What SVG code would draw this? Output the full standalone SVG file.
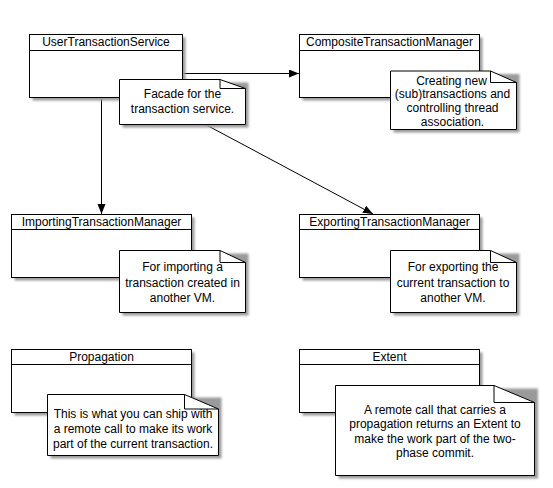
<svg xmlns="http://www.w3.org/2000/svg" width="553" height="488" viewBox="0 0 553 488">
<style>
text{font-family:"Liberation Sans",Arial,sans-serif;font-size:12px;fill:#000;text-anchor:middle}
.box{fill:#fff;stroke:#000;stroke-width:1}
.sh{fill:#9a9a9a;filter:url(#blur)}
.ln{stroke:#000;stroke-width:1;fill:none}
.note{fill:#fff;stroke:#000;stroke-width:1}
</style>
<defs>
<filter id="blur" x="-10%" y="-10%" width="120%" height="120%"><feGaussianBlur stdDeviation="0.9"/></filter>
<marker id="arr" markerUnits="userSpaceOnUse" markerWidth="11" markerHeight="9" refX="10" refY="4" orient="auto"><path d="M0,0 L10,4 L0,8 Z" fill="#000"/></marker>
</defs>
<rect width="553" height="488" fill="#fff"/>
<g id="connectors">
<line class="ln" x1="183" y1="73.5" x2="299" y2="73.5" marker-end="url(#arr)"/>
<line class="ln" x1="101.5" y1="98" x2="101.5" y2="214" marker-end="url(#arr)"/>
<line class="ln" x1="154" y1="97" x2="373" y2="214" marker-end="url(#arr)"/>
</g>
<g id="UserTransactionService">
<rect class="sh" x="32.5" y="37.5" width="153" height="63"/>
<rect class="box" x="29.5" y="34.5" width="153" height="63"/>
<line class="ln" x1="29.5" y1="50.5" x2="182.5" y2="50.5"/>
<text x="106" y="45.5">UserTransactionService</text>
</g>
<g id="CompositeTransactionManager">
<rect class="sh" x="302.5" y="37.5" width="180" height="63"/>
<rect class="box" x="299.5" y="34.5" width="180" height="63"/>
<line class="ln" x1="299.5" y1="50.5" x2="479.5" y2="50.5"/>
<text x="389.5" y="45.5">CompositeTransactionManager</text>
</g>
<g id="ImportingTransactionManager">
<rect class="sh" x="14.5" y="217.5" width="180" height="63"/>
<rect class="box" x="11.5" y="214.5" width="180" height="63"/>
<line class="ln" x1="11.5" y1="229.5" x2="191.5" y2="229.5"/>
<text x="101.5" y="225.5">ImportingTransactionManager</text>
</g>
<g id="ExportingTransactionManager">
<rect class="sh" x="302.5" y="217.5" width="180" height="63"/>
<rect class="box" x="299.5" y="214.5" width="180" height="63"/>
<line class="ln" x1="299.5" y1="229.5" x2="479.5" y2="229.5"/>
<text x="389.5" y="225.5">ExportingTransactionManager</text>
</g>
<g id="Propagation">
<rect class="sh" x="14.5" y="352.5" width="180" height="63"/>
<rect class="box" x="11.5" y="349.5" width="180" height="63"/>
<line class="ln" x1="11.5" y1="364.5" x2="191.5" y2="364.5"/>
<text x="101.5" y="360.5">Propagation</text>
</g>
<g id="Extent">
<rect class="sh" x="302.5" y="352.5" width="180" height="63"/>
<rect class="box" x="299.5" y="349.5" width="180" height="63"/>
<line class="ln" x1="299.5" y1="364.5" x2="479.5" y2="364.5"/>
<text x="389.5" y="360.5">Extent</text>
</g>
<g id="note-facade">
<rect class="sh" x="122.5" y="82.5" width="126" height="45"/>
<path class="note" d="M119.5,79.5 H220 L245.5,88.5 V124.5 H119.5 Z"/>
<path class="ln" d="M220,79.5 V88.5 H245.5"/>
<text x="182.5" y="98.3">Facade for the</text>
<text x="182.5" y="113.3">transaction service.</text>
</g>
<g id="note-composite">
<rect class="sh" x="393.5" y="74" width="126" height="58.5"/>
<path class="note" d="M390.5,71 H490.5 L516.5,82.5 V129.5 H390.5 Z"/>
<path class="ln" d="M490.5,71 V82.5 H516.5"/>
<text x="451.5" y="84.5">Creating new</text>
<text x="452.5" y="98.3">(sub)transactions and</text>
<text x="452.5" y="112">controlling thread</text>
<text x="452.5" y="125.7">association.</text>
</g>
<g id="note-importing">
<rect class="sh" x="122.5" y="253.5" width="126" height="62"/>
<path class="note" d="M119.5,250.5 H220 L245.5,262.5 V312.5 H119.5 Z"/>
<path class="ln" d="M220,250.5 V262.5 H245.5"/>
<text x="182.5" y="271">For importing a</text>
<text x="182.5" y="286.5">transaction created in</text>
<text x="182.5" y="302">another VM.</text>
</g>
<g id="note-exporting">
<rect class="sh" x="393.5" y="253.5" width="126" height="62"/>
<path class="note" d="M390.5,250.5 H490.5 L516.5,262.5 V312.5 H390.5 Z"/>
<path class="ln" d="M490.5,250.5 V262.5 H516.5"/>
<text x="453" y="271">For exporting the</text>
<text x="453" y="286.5">current transaction to</text>
<text x="453" y="302">another VM.</text>
</g>
<g id="note-propagation">
<rect class="sh" x="50.5" y="397.5" width="171" height="61"/>
<path class="note" d="M47.5,394.5 H184.5 L218.5,409 V455.5 H47.5 Z"/>
<path class="ln" d="M184.5,394.5 V409 H218.5"/>
<text x="133" y="418.3">This is what you can ship with</text>
<text x="133" y="433">a remote call to make its work</text>
<text x="133" y="447.5">part of the current transaction.</text>
</g>
<g id="note-extent">
<rect class="sh" x="338.5" y="388.5" width="199.5" height="90"/>
<path class="note" d="M335.5,385.5 H494 L534.5,402.5 V475.5 H335.5 Z"/>
<path class="ln" d="M494,385.5 V402.5 H534.5"/>
<text x="435" y="413.5">A remote call that carries a</text>
<text x="435" y="428">propagation returns an Extent to</text>
<text x="435" y="442.5">make the work part of the two-</text>
<text x="435" y="457">phase commit.</text>
</g>
</svg>
